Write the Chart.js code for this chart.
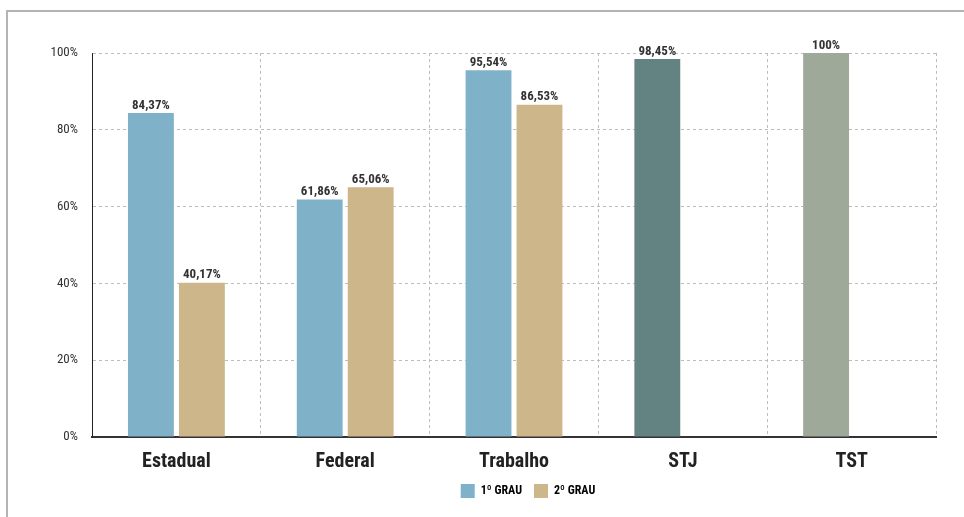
<!DOCTYPE html>
<html>
<head>
<meta charset="utf-8">
<script src="https://cdn.jsdelivr.net/npm/chart.js@4/dist/chart.umd.min.js"></script>
<style>
    html, body { margin: 0; padding: 0; background: #fff; }
    #wrap { position: relative; width: 964px; height: 517px; }
    #frame { position: absolute; left: 6px; top: 10px; right: 0; bottom: 0; border-top: 2px solid #b4b4b4; border-left: 2px solid #b4b4b4; }
    canvas { position: absolute; left: 0; top: 0; }
</style>
</head>
<body>
<div id="wrap">
    <div id="frame"></div>
    <canvas id="chart" width="964" height="517"></canvas>
</div>
<script>
"use strict";

var categories = ['Estadual', 'Federal', 'Trabalho', 'STJ', 'TST'];
var seriesNames = ['1º GRAU', '2º GRAU'];
var grau1 = [84.37, 61.86, 95.54, 98.45, 100];
var grau2 = [40.17, 65.06, 86.53, null, null];
var grau1Labels = ['84,37%', '61,86%', '95,54%', '98,45%', '100%'];
var grau2Labels = ['40,17%', '65,06%', '86,53%', '', ''];
var yTicks = [0, 20, 40, 60, 80, 100];

var blue = '#7fb2c9';
var tan = '#cdb78a';
var grau1Colors = [blue, blue, blue, '#638383', '#9fa999'];

var fontFam = "'Liberation Sans Narrow', 'Roboto Condensed', 'Arial Narrow', Roboto, sans-serif";

/* little plugin: value labels on top of the bars */
var barLabels = {
    id: 'barLabels',
    afterDatasetsDraw: function (chart) {
        var ctx = chart.ctx;
        var texts = [grau1Labels, grau2Labels];
        ctx.save();
        ctx.fillStyle = '#333';
        ctx.font = 'bold 13px ' + fontFam;
        ctx.textAlign = 'center';
        ctx.textBaseline = 'bottom';
        chart.data.datasets.forEach(function (ds, i) {
            var meta = chart.getDatasetMeta(i);
            meta.data.forEach(function (bar, j) {
                if (ds.data[j] == null) return;
                ctx.fillText(texts[i][j], bar.x, bar.y - 1);
            });
        });
        ctx.restore();
    }
};

/* the legend sits a bit right of the middle in the original */
var legendShift = {
    id: 'legendShift',
    afterLayout: function (chart) {
        var lg = chart.legend;
        lg.left += 60;
        lg.right += 60;
        lg.top -= 4;
        lg.bottom -= 4;
    }
};

var ctx = document.getElementById('chart');
var myChart = new Chart(ctx, {
    type: 'bar',
    data: {
        labels: categories,
        datasets: [
            { label: seriesNames[0], data: grau1, backgroundColor: grau1Colors, legendColor: blue },
            { label: seriesNames[1], data: grau2, backgroundColor: tan, legendColor: tan }
        ]
    },
    options: {
        responsive: false,
        animation: false,
        devicePixelRatio: 1,
        categoryPercentage: 0.604,
        barPercentage: 0.9,
        layout: { padding: { left: 0, right: 28, top: 53, bottom: 5 } },
        plugins: {
            tooltip: { enabled: false },
            legend: {
                position: 'bottom',
                labels: {
                    boxWidth: 14,
                    boxHeight: 14,
                    padding: 12,
                    color: '#333',
                    font: { family: fontFam, size: 12, weight: 'bold' },
                    generateLabels: function (chart) {
                        return chart.data.datasets.map(function (ds, i) {
                            return { text: ds.label, fillStyle: ds.legendColor, strokeStyle: ds.legendColor, lineWidth: 0, datasetIndex: i };
                        });
                    }
                }
            }
        },
        scales: {
            x: {
                grid: { display: true, offset: true, color: '#bdbdbd', drawTicks: false },
                border: { color: '#333', width: 2, dash: [3, 3] },
                ticks: { color: '#222', padding: 13, font: { family: fontFam, size: 20, weight: 'bold' } },
                afterFit: function (scale) { scale.height = 39; }
            },
            y: {
                min: 0,
                max: 100,
                afterBuildTicks: function (scale) { scale.ticks = yTicks.map(function (v) { return { value: v }; }); },
                grid: { color: '#bdbdbd', drawTicks: false },
                border: { color: '#222', width: 1, dash: [3, 3] },
                ticks: {
                    color: '#333',
                    padding: 14,
                    font: { family: fontFam, size: 13 },
                    callback: function (v) { return v + '%'; }
                },
                afterFit: function (scale) { scale.width = 92; }
            }
        }
    },
    plugins: [barLabels, legendShift]
});
</script>
</body>
</html>
